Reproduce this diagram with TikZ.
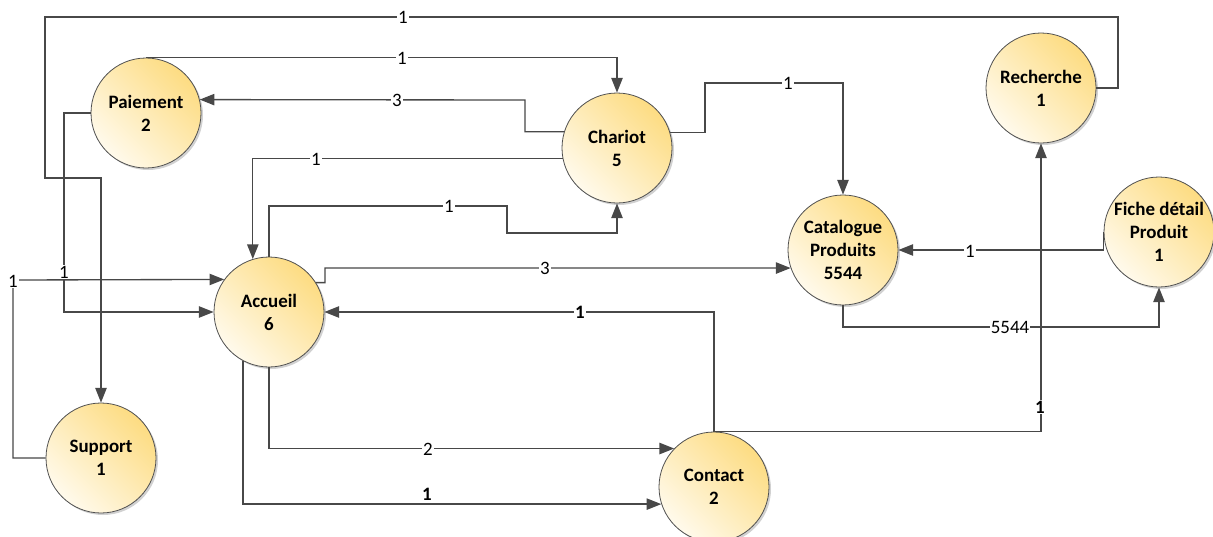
\documentclass[tikz,border=0pt]{standalone}
\usepackage{fontspec}
\setmainfont{Carlito}
\usetikzlibrary{arrows.meta,shadows}
\definecolor{bubbleyellow}{RGB}{253,220,130}
\definecolor{bubblelight}{RGB}{255,250,236}
\definecolor{wire}{RGB}{72,72,72}
\definecolor{rim}{RGB}{80,80,80}
\tikzset{
  bubble/.style={circle, minimum size=82.5pt, inner sep=0pt, draw=rim, line width=0.6pt,
    bottom color=bubblelight, top color=bubbleyellow, shading angle=-45,
    font=\fontsize{14.2}{17.3}\selectfont\bfseries, align=center, text=black,
    drop shadow={shadow xshift=1.5pt, shadow yshift=-1.5pt, opacity=0.18, fill=black}},
  flow/.style={draw=wire, line width=1pt, line join=miter, -{Triangle[length=11pt,width=8.5pt]}},
  lbl/.style={fill=white, inner sep=0.8pt, text=black, font=\fontsize{14.2}{17}\selectfont},
  lblb/.style={lbl, font=\fontsize{14.2}{17}\selectfont\bfseries}
}
\begin{document}
\begin{tikzpicture}[x=0.75pt, y=-0.75pt]
  \clip (0,0) rectangle (1213,536);
  \fill[white] (0,0) rectangle (1213,536);

  % pages of the site
  \node[bubble] (pai) at (146,113)  {Paiement\\2};
  \node[bubble] (cha) at (617,148)  {Chariot\\5};
  \node[bubble] (rec) at (1041,88)  {Recherche\\1};
  \node[bubble] (cat) at (843,250)  {Catalogue\\Produits\\5544};
  \node[bubble] (fic) at (1159,232) {Fiche détail\\Produit\\1};
  \node[bubble] (acc) at (269,312)  {Accueil\\6};
  \node[bubble] (sup) at (101,458)  {Support\\1};
  \node[bubble] (con) at (714,487)  {Contact\\2};

  % navigation links
  \draw[flow] (rec.east) -| (1118,17) -| (45,178) -| (sup.north);
  \draw[flow] (pai.north) -| (cha.north);
  \draw[flow] (cha.163) -| (525,100) -- (pai.14);
  \draw[flow] (cha.191.5) -| (acc.107);
  \draw[flow] (acc.north) |- (507,206) |- (617,233) -- (cha.south);
  \draw[flow] (acc.32) -| (325,268) -- (cat.199);
  \draw[flow] (con.north) |- (acc.east);
  \draw[flow] (con.north) -| (rec.south);
  \draw[flow] (fic.west) |- (cat.east);
  \draw[flow] (cat.south) -- (843,327) -| (fic.south);
  \draw[flow] (cha.16) -| (705,83) -| (cat.north);
  \draw[flow] (pai.west) -| (64,312) -- (acc.west);
  \draw[flow] (sup.west) -| (13,280) -- (acc.144);
  \draw[flow] (acc.south) |- (con.136);
  \draw[flow] (acc.242) |- (con.198);

  % link counts
  \node[lbl]  (l1)  at (403,17)  {1};
  \node[lbl]  (l2)  at (402,58)  {1};
  \node[lbl]  (l3)  at (397,100) {3};
  \node[lbl]  (l4)  at (316,159) {1};
  \node[lbl]  (l5)  at (449,206) {1};
  \node[lbl]  (l6)  at (545,268) {3};
  \node[lblb] (l7)  at (580,312) {1};
  \node[lblb] (l8)  at (1040,407) {1};
  \node[lbl]  (l9)  at (970,251) {1};
  \node[lbl]  (l10) at (1010,327) {5544};
  \node[lbl]  (l11) at (788,83)  {1};
  \node[lbl]  (l12) at (64,272)  {1};
  \node[lbl]  (l13) at (13,281)  {1};
  \node[lbl]  (l14) at (428,449) {2};
  \node[lblb] (l15) at (427,494) {1};
\end{tikzpicture}
\end{document}
